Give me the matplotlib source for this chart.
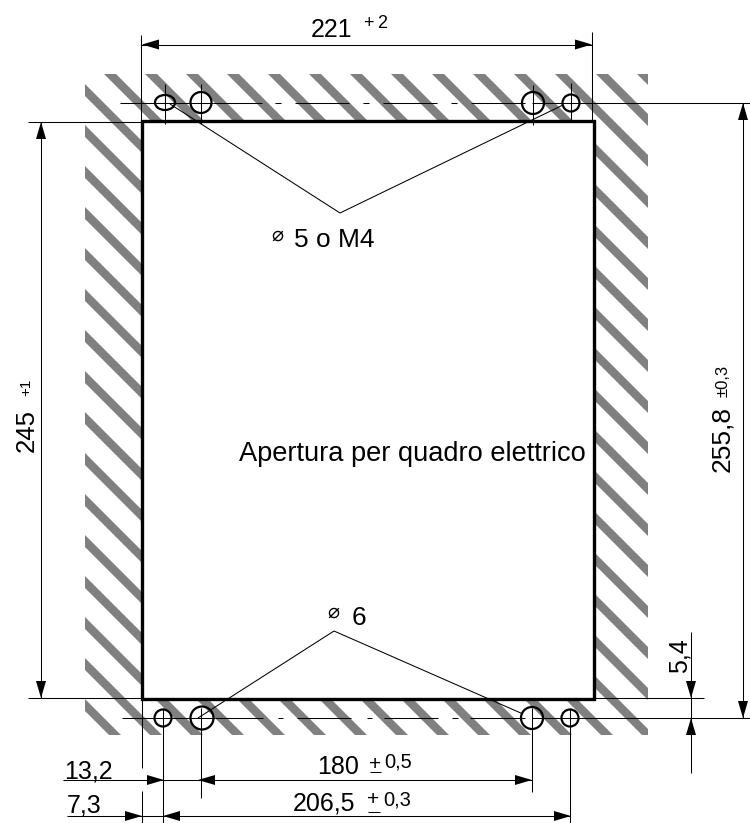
import numpy as np
import matplotlib
matplotlib.use('Agg')
import matplotlib.pyplot as plt
from matplotlib.patches import Ellipse, Polygon, Rectangle
from matplotlib.path import Path
from matplotlib.patches import PathPatch

plt.rcParams['font.family'] = ['Liberation Sans', 'DejaVu Sans']

# ───── Drawing data (pixel units of the sheet) ─────
OPENING = (142, 121, 594, 699)
HATCH = (85, 74, 648, 735)
BAND_OFFSETS = list(range(-1025, 700, 41))

# x, y, width, height
HOLES = [(165, 102.5, 20, 15), (201, 102.5, 21, 21), (533, 103, 22, 22), (571, 103, 17, 17),
         (163, 718, 17, 17), (202, 718, 23, 23), (532, 718, 22, 22), (570, 718, 17, 17)]

# x0, y0, x1, y1
THIN_LINES = [
    (141, 35, 141, 120), (592, 32, 592, 120), (141, 44.5, 592, 44.5),
    (28, 122, 142, 122), (28, 698, 142, 698), (41, 122, 41, 698),
    (165, 84, 165, 124), (201, 84, 201, 124), (533, 85, 533, 125), (571, 83, 571, 120),
    (120, 102.5, 213, 102.5), (532, 102.5, 750, 102.5),
    (122, 718, 215, 718), (532, 718, 750, 718),
    (142, 699, 142, 768), (142, 791, 142, 823), (163, 708, 163, 823),
    (201, 708, 201, 798), (532, 708, 532, 792), (570, 708, 570, 823),
    (63, 780, 532, 780), (67, 816, 570, 816),
    (594, 698, 704, 698), (691, 632, 691, 773), (743, 103, 743, 718),
    (170, 104, 340, 213), (340, 213, 563, 105),
    (334, 631, 198, 718), (334, 631, 523, 714),
    (370, 772, 381, 772), (368, 812, 380, 812),
]
# tip x, tip y, direction
ARROWS = [
    (142, 44.5, 'L'), (592, 44.5, 'R'), (41, 122, 'U'), (41, 698, 'D'),
    (164, 780, 'R'), (198, 780, 'L'), (532, 780, 'R'),
    (142, 816, 'R'), (163, 816, 'L'), (571, 816, 'R'),
    (691, 698, 'D'), (691, 718, 'U'), (743, 103, 'U'), (743, 718, 'D'),
]
DASH_TOP = [(213, 262), (275, 281), (295, 349), (363, 369), (383, 437), (451, 457), (471, 525)]
DASH_BOTTOM = [(215, 263), (278, 283), (297, 351), (367, 372), (384, 438), (452, 458), (470, 525)]

# x, y, string, size
LABELS = [
    (311, 37, '221', 18), (363, 28, '+', 13), (377, 28, '2', 13),
    (294, 247, '5 o M4', 19), (271, 241, '\u2300', 14.5),
    (352, 625, '6', 19), (327, 618, '\u2300', 14.5),
    (239, 461, 'Apertura per quadro elettrico', 19.6),
    (64, 778, '13,2', 18), (67, 813, '7,3', 18),
    (317, 774, '180', 18), (369, 770, '+', 15), (384, 768, '0,5', 14.5),
    (293, 810, '206,5', 18), (367, 805, '+', 15), (383, 805, '0,3', 14.5),
]
# baseline x, start y, string, size
ROTATED = [(34, 452, '245', 18.5), (30, 396, '+1', 11), (729, 472, '255,8', 19),
           (728, 397, '\u00b10,3', 12), (687, 673, '5,4', 18)]


def draw_arrow(ax, x, y, d, length=17, half=5):
    if d == 'L':
        pts = [(x, y), (x + length, y - half), (x + length, y + half)]
    elif d == 'R':
        pts = [(x, y), (x - length, y - half), (x - length, y + half)]
    elif d == 'U':
        pts = [(x, y), (x - half, y + length), (x + half, y + length)]
    else:
        pts = [(x, y), (x - half, y - length), (x + half, y - length)]
    ax.add_patch(Polygon(pts, closed=True, fc='black', ec='none', zorder=4))


fig = plt.figure(figsize=(7.5, 8.23), dpi=100)
ax = fig.add_axes([0, 0, 1, 1])
ax.set_xlim(0, 750)
ax.set_ylim(823, 0)
ax.axis('off')

# hatched frame around the opening
x0, y0, x1, y1 = HATCH
ox0, oy0, ox1, oy1 = OPENING
frame = Path([(x0, y0), (x1, y0), (x1, y1), (x0, y1), (x0, y0),
              (ox0, oy0), (ox0, oy1), (ox1, oy1), (ox1, oy0), (ox0, oy0)],
             [Path.MOVETO, Path.LINETO, Path.LINETO, Path.LINETO, Path.CLOSEPOLY,
              Path.MOVETO, Path.LINETO, Path.LINETO, Path.LINETO, Path.CLOSEPOLY])
clip = PathPatch(frame, transform=ax.transData, fc='none', ec='none')
ax.add_patch(clip)
for off in BAND_OFFSETS:
    band = Polygon([(y0 + off + 30, y0), (y0 + off + 42, y0),
                    (y1 + off + 42, y1), (y1 + off + 30, y1)],
                   closed=True, fc='#808080', ec='none', zorder=1)
    ax.add_patch(band)
    band.set_clip_path(clip)

# opening outline
ax.add_patch(Rectangle((ox0, oy0), ox1 - ox0, oy1 - oy0, fc='none', ec='black', lw=2.4, zorder=3,
                       joinstyle='miter'))

for xa, ya, xb, yb in THIN_LINES:
    ax.plot([xa, xb], [ya, yb], color='black', lw=0.75, solid_capstyle='butt', zorder=2)
for xa, xb in DASH_TOP:
    ax.plot([xa, xb], [102.5, 102.5], color='black', lw=0.75, solid_capstyle='butt', zorder=2)
for xa, xb in DASH_BOTTOM:
    ax.plot([xa, xb], [718, 718], color='black', lw=0.75, solid_capstyle='butt', zorder=2)

for cx, cy, w, h in HOLES:
    ax.add_patch(Ellipse((cx, cy), w, h, fc='none', ec='black', lw=1.6, zorder=3))

for xa, ya, d in ARROWS:
    draw_arrow(ax, xa, ya, d)

for x, y, s, size in LABELS:
    ax.text(x, y, s, fontsize=size, ha='left', va='baseline', color='black')
for x, y, s, size in ROTATED:
    ax.text(x, y, s, fontsize=size, rotation=90, rotation_mode='anchor',
            ha='left', va='baseline', color='black')

fig.savefig('out.png', dpi=100, facecolor='white')
